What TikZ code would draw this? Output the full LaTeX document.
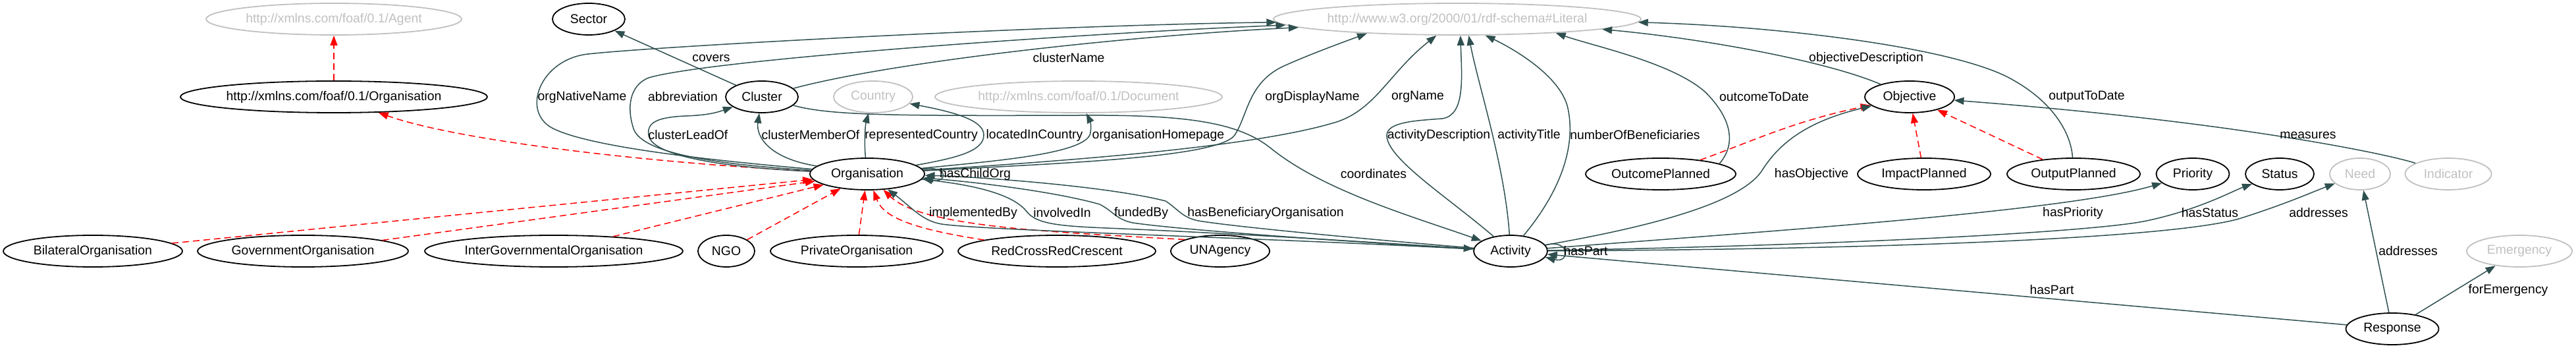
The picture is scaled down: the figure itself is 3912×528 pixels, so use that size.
\documentclass[tikz,border=0pt]{standalone}
\usepackage{fontspec}
\setmainfont{Liberation Sans}
\usetikzlibrary{arrows.meta,shapes.geometric}
\definecolor{edgec}{HTML}{2F4F4F}
\definecolor{lgray}{HTML}{C0C0C0}
\begin{document}
\begin{tikzpicture}[x=0.5pt,y=-0.5pt,
  every node/.style={font=\fontsize{9.7}{11.6}\selectfont},
  cls/.style={ellipse,draw=black,line width=0.9pt,inner sep=0pt,minimum height=24pt},
  ext/.style={ellipse,draw=lgray,text=lgray,line width=0.9pt,inner sep=0pt,minimum height=24pt},
  rel/.style={draw=edgec,line width=0.75pt,-{Triangle[length=7.5pt,width=5.5pt]}},
  sub/.style={draw=red,line width=0.75pt,dash pattern=on 5pt off 3pt,-{Triangle[length=7.5pt,width=5.5pt]}},
  lab/.style={inner sep=0pt}]
\useasboundingbox (0,0) rectangle (3912,528);
% nodes
\node[ext,minimum width=194pt] (agent) at (507,29) {http://xmlns.com/foaf/0.1/Agent};
\node[cls,minimum width=233pt] (foaforg) at (507,147) {http://xmlns.com/foaf/0.1/Organisation};
\node[cls,minimum width=55pt] (sector) at (894,29) {Sector};
\node[cls,minimum width=55pt] (cluster) at (1157,147) {Cluster};
\node[ext,minimum width=60pt] (country) at (1326,147) {Country};
\node[ext,minimum width=218pt] (document) at (1638,147) {http://xmlns.com/foaf/0.1/Document};
\node[ext,minimum width=279pt] (literal) at (2213,29) {http://www.w3.org/2000/01/rdf-schema\#Literal};
\node[cls,minimum width=68pt] (objective) at (2900,147) {Objective};
\node[cls,minimum width=87pt] (org) at (1317,264) {Organisation};
\node[cls,minimum width=114pt] (outcome) at (2522,264) {OutcomePlanned};
\node[cls,minimum width=101pt] (impact) at (2922,264) {ImpactPlanned};
\node[cls,minimum width=101pt] (output) at (3149,264) {OutputPlanned};
\node[cls,minimum width=55.5pt] (priority) at (3330,264) {Priority};
\node[cls,minimum width=52pt] (status) at (3462,264) {Status};
\node[ext,minimum width=46pt] (need) at (3584,264) {Need};
\node[ext,minimum width=65.5pt] (indicator) at (3718,264) {Indicator};
\node[cls,minimum width=136pt] (bilateral) at (141,381) {BilateralOrganisation};
\node[cls,minimum width=160pt] (government) at (460,381) {GovernmentOrganisation};
\node[cls,minimum width=196pt] (intergov) at (841,381) {InterGovernmentalOrganisation};
\node[cls,minimum width=43pt] (ngo) at (1103,381) {NGO};
\node[cls,minimum width=131pt] (private) at (1301,381) {PrivateOrganisation};
\node[cls,minimum width=150pt] (redcross) at (1605,381) {RedCrossRedCrescent};
\node[cls,minimum width=75pt] (unagency) at (1853,381) {UNAgency};
\node[cls,minimum width=56pt] (activity) at (2294,381) {Activity};
\node[ext,minimum width=80pt] (emergency) at (3826,381) {Emergency};
\node[cls,minimum width=70.5pt] (response) at (3633,499) {Response};
% subclass edges
\draw[sub] (foaforg) -- (agent);
\draw[sub] (org) .. controls (1000,248) and (700,215) .. (foaforg);
\draw[sub] (bilateral) -- (org);
\draw[sub] (government) -- (org);
\draw[sub] (intergov) -- (org);
\draw[sub] (ngo) -- (org);
\draw[sub] (private) -- (org);
\draw[sub] (redcross) .. controls (1370,345) and (1340,325) .. (org);
\draw[sub] (unagency.162) .. controls (1600,352) and (1400,345) .. (org);
\draw[sub] (outcome) .. controls (2660,215) and (2720,185) .. (objective);
\draw[sub] (impact) -- (objective);
\draw[sub] (output) -- (objective);
% property edges
\draw[rel] (cluster) -- (sector);
\draw[rel] (cluster) .. controls (1350,95) and (1700,55) .. (literal.183.1);
\draw[rel] (org) .. controls (1100,250) and (975,235) .. (962,195) .. controls (952,165) and (955,130) .. (985,118) .. controls (1080,90) and (1650,50) .. (literal.182.5);
\draw[rel] (org) .. controls (1100,245) and (900,225) .. (840,195) .. controls (790,170) and (820,90) .. (893,82) .. controls (1000,70) and (1600,38) .. (literal.181);
\draw[rel] (org) .. controls (1120,255) and (990,240) .. (985,205) .. controls (982,185) and (1000,178) .. (1040,176) .. controls (1070,175) and (1085,172) .. (cluster);
\draw[rel] (org) .. controls (1165,240) and (1148,205) .. (cluster);
\draw[rel] (org) .. controls (1312,215) and (1314,190) .. (country);
\draw[rel] (org) .. controls (1450,240) and (1494,230) .. (1494,205) .. controls (1494,185) and (1460,172) .. (country);
\draw[rel] (org) .. controls (1500,245) and (1640,235) .. (1655,205) .. controls (1658,195) and (1656,185) .. (document);
\draw[rel] (org) .. controls (1600,248) and (1850,240) .. (1875,205) .. controls (1895,175) and (1895,125) .. (1950,100) .. controls (1990,82) and (2045,62) .. (literal.189.5);
\draw[rel] (org) .. controls (1600,245) and (1900,225) .. (2030,185) .. controls (2090,165) and (2110,110) .. (literal.218.5);
\draw[rel] (org.5) .. controls (1440,250) and (1440,278) .. (org.-5);
\draw[rel] (org) .. controls (1480,280) and (1540,295) .. (1560,322) .. controls (1575,340) and (1610,343) .. (1680,346) .. controls (1900,355) and (2150,372) .. (activity);
\draw[rel] (activity) .. controls (1900,360) and (1500,350) .. (1430,340) .. controls (1400,335) and (1385,315) .. (org);
\draw[rel] (activity) .. controls (2100,370) and (1800,350) .. (1720,338) .. controls (1695,333) and (1690,320) .. (1670,310) .. controls (1600,290) and (1470,275) .. (org);
\draw[rel] (activity) .. controls (2100,365) and (1880,345) .. (1820,335) .. controls (1795,330) and (1790,318) .. (1770,305) .. controls (1680,282) and (1480,268) .. (org);
\draw[rel] (cluster) .. controls (1260,175) and (1350,176) .. (1640,175) .. controls (1800,174) and (1880,185) .. (1930,225) .. controls (2010,290) and (2150,330) .. (activity);
\draw[rel] (activity) .. controls (2200,300) and (2105,240) .. (2106,205) .. controls (2107,185) and (2150,183) .. (2190,180) .. controls (2225,175) and (2220,120) .. (literal.281.8);
\draw[rel] (activity) .. controls (2285,250) and (2245,130) .. (literal.305.4);
\draw[rel] (activity) .. controls (2370,290) and (2395,220) .. (2380,160) .. controls (2365,110) and (2290,70) .. (literal.330.6);
\draw[rel] (outcome.10) .. controls (2640,215) and (2625,175) .. (2590,140) .. controls (2540,95) and (2420,70) .. (literal.352.1);
\draw[rel] (objective) .. controls (2780,95) and (2600,60) .. (literal.356.1);
\draw[rel] (output) .. controls (3145,200) and (3115,150) .. (3045,115) .. controls (2950,70) and (2700,40) .. (literal.359.3);
\draw[rel] (indicator) .. controls (3630,235) and (3400,185) .. (objective);
\draw[rel] (activity) .. controls (2500,345) and (2640,310) .. (2675,260) .. controls (2700,220) and (2740,185) .. (objective);
\draw[rel] (activity) .. controls (2700,350) and (3140,320) .. (priority);
\draw[rel] (activity) .. controls (2800,372) and (3180,352) .. (3260,335) .. controls (3340,318) and (3390,290) .. (status);
\draw[rel] (activity) .. controls (2900,378) and (3300,360) .. (3400,332) .. controls (3470,310) and (3510,292) .. (need);
\draw[rel] (activity.10) .. controls (2385,362) and (2385,400) .. (activity.-10);
\draw[rel] (response) -- (activity);
\draw[rel] (response) -- (need);
\draw[rel] (response) -- (emergency);
% labels
\node[lab] (l1) at (1080,88) {covers};
\node[lab] (l2) at (1623,88) {clusterName};
\node[lab] (l3) at (884,147) {orgNativeName};
\node[lab] (l4) at (1037,147) {abbreviation};
\node[lab] (l5) at (1045,205) {clusterLeadOf};
\node[lab] (l6) at (1231,205) {clusterMemberOf};
\node[lab] (l7) at (1399,205) {representedCountry};
\node[lab] (l8) at (1571,205) {locatedInCountry};
\node[lab] (l9) at (1759,205) {organisationHomepage};
\node[lab] (l10) at (1993,147) {orgDisplayName};
\node[lab] (l11) at (2153,147) {orgName};
\node[lab] (l12) at (1481,264) {hasChildOrg};
\node[lab] (l13) at (1478,323) {implementedBy};
\node[lab] (l14) at (1613,323) {involvedIn};
\node[lab] (l15) at (1733,323) {fundedBy};
\node[lab] (l16) at (1922,323) {hasBeneficiaryOrganisation};
\node[lab] (l17) at (2086,264) {coordinates};
\node[lab] (l18) at (2185,205) {activityDescription};
\node[lab] (l19) at (2322,205) {activityTitle};
\node[lab] (l20) at (2483,205) {numberOfBeneficiaries};
\node[lab] (l21) at (2679,147) {outcomeToDate};
\node[lab] (l22) at (2834,88) {objectiveDescription};
\node[lab] (l23) at (3169,147) {outputToDate};
\node[lab] (l24) at (3505,205) {measures};
\node[lab] (l25) at (2751,264) {hasObjective};
\node[lab] (l26) at (3148,323) {hasPriority};
\node[lab] (l27) at (3356,323) {hasStatus};
\node[lab] (l28) at (3521,323) {addresses};
\node[lab] (l29) at (2408,381) {hasPart};
\node[lab] (l30) at (3116,440) {hasPart};
\node[lab] (l31) at (3657,381) {addresses};
\node[lab] (l32) at (3809,440) {forEmergency};
\end{tikzpicture}
\end{document}
